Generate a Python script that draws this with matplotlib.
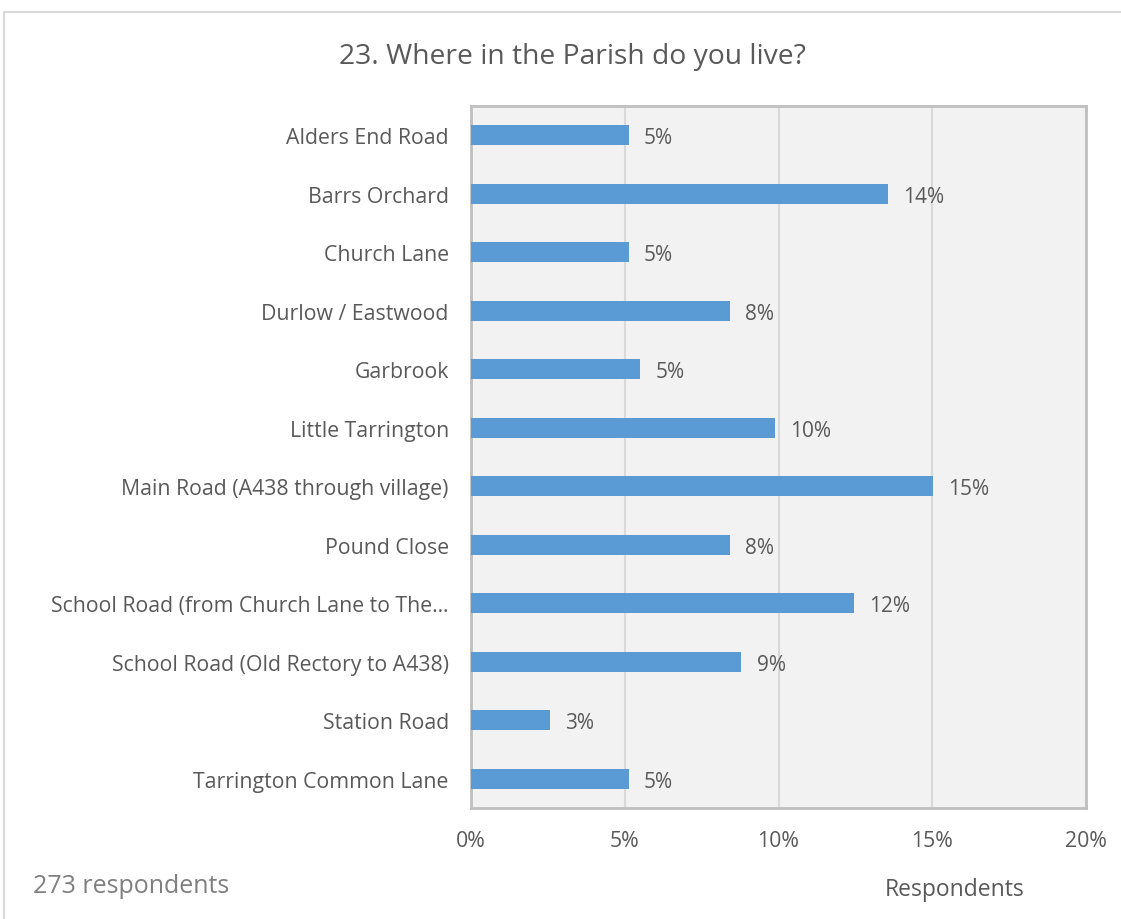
import matplotlib.pyplot as plt
from matplotlib.patches import Rectangle

categories = [
    'Alders End Road', 'Barrs Orchard', 'Church Lane', 'Durlow / Eastwood',
    'Garbrook', 'Little Tarrington', 'Main Road (A438 through village)',
    'Pound Close', 'School Road (from Church Lane to The\u2026',
    'School Road (Old Rectory to A438)', 'Station Road', 'Tarrington Common Lane',
]
counts = [14, 37, 14, 23, 15, 27, 41, 23, 34, 24, 7, 14]
total = 273
shares = [c / total * 100 for c in counts]
xticks = [0, 5, 10, 15, 20]

plt.rcParams['font.family'] = ['Open Sans', 'DejaVu Sans']
text_col = '#595959'

fig = plt.figure(figsize=(11.21, 9.2), dpi=100)
W, H = 1121, 920
ax = fig.add_axes([471 / W, 1 - 809 / H, (1086 - 471) / W, (809 - 107) / H])

# outer chart border
fig.patches.append(Rectangle((4 / W, -0.1), 1.2, 1 - 13 / H + 0.1, transform=fig.transFigure,
                             fill=False, edgecolor='#d9d9d9', linewidth=1.5))

ax.set_facecolor('#f2f2f2')
ypos = list(range(len(categories)))
ax.barh(ypos, shares, height=0.34, color='#5b9bd5', zorder=3)
for y, v in zip(ypos, shares):
    ax.text(v + 0.5, y + 0.04, f'{round(v):d}%', va='center', ha='left', fontsize=15, color=text_col)

ax.set_ylim(len(categories) - 0.5, -0.5)
ax.set_xlim(0, 20)
ax.set_yticks(ypos)
ax.set_yticklabels(categories, fontsize=15.3, color=text_col)
ax.set_xticks(xticks)
ax.set_xticklabels([f'{t}%' for t in xticks], fontsize=15.3, color=text_col)
ax.tick_params(length=0)
ax.tick_params(axis='y', pad=16)
ax.tick_params(axis='x', pad=16)
ax.grid(axis='x', color='#d9d9d9', linewidth=1.5, zorder=0)
for s in ax.spines.values():
    s.set_color('#bfbfbf')
    s.set_linewidth(2)

fig.text(572 / W, 1 - 57 / H, '23. Where in the Parish do you live?', ha='center', va='center',
         fontsize=20.3, color=text_col)
fig.text(33 / W, 1 - 887 / H, '273 respondents', ha='left', va='center', fontsize=18, color='#7f7f7f')
fig.text(955 / W, 1 - 890 / H, 'Respondents', ha='center', va='center', fontsize=16.5, color=text_col)

fig.savefig('out.png', dpi=100)
